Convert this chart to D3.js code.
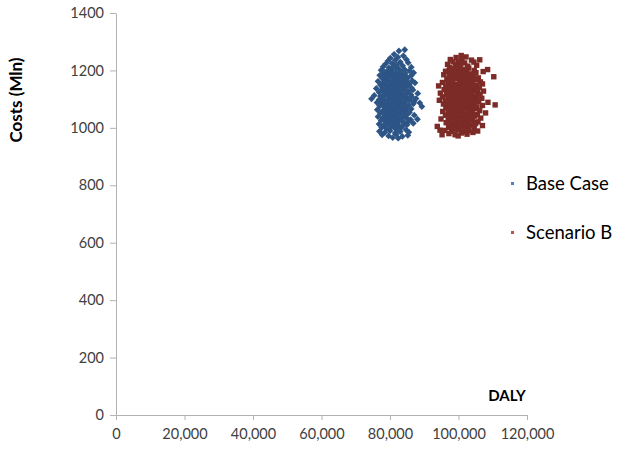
<!DOCTYPE html>
<html><head><meta charset="utf-8">
<script src="https://cdn.jsdelivr.net/npm/d3@7"></script>
<style>body{margin:0;background:#fff}svg{display:block}text{font-family:Lato,"Open Sans",sans-serif}</style>
</head><body><svg id="c" width="629" height="453"></svg>
<script>
const xTicks = [0,20000,40000,60000,80000,100000,120000];
const yTicks = [0,200,400,600,800,1000,1200,1400];
const seriesNames = ["Base Case","Scenario B"];
const baseCase = [
[82600,1268],[84300,1272],[81200,1256],[83900,1251],[80100,1243],[82300,1246],[84800,1238],[79400,1233],[81500,1236],[83000,1229],[85300,1227],
[78700,1222],[80600,1224],[82000,1219],[83700,1216],[86200,1211],[78000,1213],[79700,1209],[81000,1212],[82500,1206],[84300,1203],[85700,1199],
[77400,1201],[79000,1196],[80300,1199],[81600,1193],[83100,1197],[84500,1190],[86900,1192],[78200,1188],
[77000,1183],[78600,1180],[79900,1186],[81100,1178],[82300,1184],[83600,1181],[84900,1176],[86200,1182],
[77800,1172],[79200,1169],[80500,1175],[81700,1166],[82800,1171],[84000,1167],[85100,1173],[86500,1164],
[76500,1162],[78100,1158],[79400,1163],[80700,1156],[82000,1161],[83200,1154],[84400,1159],[85600,1152],[87300,1157],
[77200,1149],[78700,1146],[80000,1151],[81300,1143],[82600,1148],[83900,1141],[85100,1146],[86300,1139],
[76000,1137],[77700,1134],[79000,1139],[80300,1131],[81600,1136],[82900,1129],[84200,1134],[85400,1127],[86700,1132],
[76800,1124],[78300,1121],[79600,1126],[80900,1119],[82200,1124],[83500,1117],[84800,1122],[86100,1115],[88100,1120],
[75400,1113],[77200,1110],[78500,1115],[79800,1108],[81100,1113],[82400,1106],[83700,1111],[85000,1104],[86300,1109],[87600,1102],
[74600,1101],[76800,1098],[78000,1103],[79300,1096],[80600,1101],[81900,1094],[83200,1099],[84500,1092],[85800,1097],[87000,1091],
[76200,1088],[77600,1085],[78900,1090],[80200,1083],[81500,1088],[82800,1081],[84100,1086],[85400,1079],[86800,1084],[88700,1087],
[77000,1076],[78400,1072],[79700,1077],[81000,1070],[82300,1075],[83600,1068],[84900,1073],[86200,1066],[89300,1074],
[76300,1063],[77900,1060],[79200,1065],[80500,1058],[81800,1063],[83100,1056],[84400,1061],[85700,1054],
[77200,1051],[78600,1047],[79900,1052],[81200,1045],[82500,1050],[83800,1043],[85100,1048],[87100,1044],
[76500,1039],[78000,1035],[79400,1040],[80700,1033],[82000,1038],[83300,1031],[84700,1036],[86000,1029],
[77400,1026],[78800,1022],[80100,1027],[81400,1020],[82700,1025],[84000,1018],[85400,1023],[88000,1030],
[76800,1013],[78200,1010],[79600,1015],[81000,1008],[82300,1013],[83700,1006],[85000,1011],[86800,1016],
[77600,1001],[79000,997],[80400,1003],[81800,995],[83200,1000],[84700,993],
[76900,988],[78500,984],[80000,990],[81500,982],[83000,987],[85500,985],
[77700,976],[79600,972],[81800,978],[83600,970],[80800,966],[85200,974],[82400,964],
[80900,1165],[82100,1142],[81400,1127],[80000,1116],[82900,1100],[81300,1082],[80100,1068],[82800,1062],[81500,1055],[80600,1040],
[82100,1028],[83000,1120],[79500,1150],[83400,1175],[80200,1190],[81800,1208],[79000,1075],[84100,1050],[79000,1027],[81200,1003],
[78200,1196],[79300,1178],[80600,1184],[81900,1172],[83100,1188],[84300,1170],[78500,1164],[79800,1158],[81100,1152],[82400,1166],
[83700,1148],[85000,1160],[77900,1142],[79300,1132],[80600,1140],[81900,1118],[83300,1136],[84600,1128],[78100,1128],[79300,1112],
[80600,1106],[81900,1130],[83100,1108],[84400,1116],[77800,1094],[79000,1086],[80300,1094],[81600,1100],[82900,1090],[84300,1098],
[78300,1080],[79500,1064],[80800,1076],[82100,1070],[83400,1078],[84700,1066],[78300,1056],[79600,1046],[80900,1050],[82200,1056],
[83500,1046],[84700,1056],[78400,1040],[79800,1034],[81100,1030],[82500,1042],[83700,1024],[78900,1006],[80800,1016],[82500,1004]
];
const scenarioB = [
[100800,1252],[99300,1245],[102200,1247],[97600,1238],[101000,1240],[103800,1236],[98400,1230],[100000,1232],[101800,1226],[104500,1229],
[96800,1221],[99100,1219],[100600,1223],[102700,1215],[105300,1218],[97400,1210],[98800,1206],[100200,1211],[101600,1204],[103000,1208],[104600,1200],[107200,1196],
[96200,1197],[97900,1193],[99500,1199],[100900,1191],[102300,1195],[103700,1188],[105100,1192],
[95700,1185],[97300,1181],[98700,1186],[100100,1179],[101500,1183],[102900,1176],[104300,1181],[105800,1174],[110300,1178],
[96600,1170],[98000,1167],[99400,1172],[100800,1164],[102200,1169],[103600,1162],[105000,1167],[106400,1160],
[95300,1158],[96900,1154],[98300,1159],[99700,1152],[101100,1157],[102500,1150],[103900,1155],[105300,1148],[107000,1153],
[94200,1146],[96300,1142],[97700,1147],[99100,1140],[100500,1145],[101900,1138],[103300,1143],[104700,1136],[106100,1141],
[95800,1133],[97200,1129],[98600,1134],[100000,1127],[101400,1132],[102800,1125],[104200,1130],[105600,1123],[107300,1128],
[94700,1121],[96500,1117],[97900,1122],[99300,1115],[100700,1120],[102100,1113],[103500,1118],[104900,1111],[106300,1116],
[95300,1108],[96900,1104],[98300,1109],[99700,1102],[101100,1107],[102500,1100],[103900,1105],[105300,1098],[106800,1103],
[94400,1096],[96100,1092],[97500,1097],[98900,1090],[100300,1095],[101700,1088],[103100,1093],[104500,1086],[105900,1091],[108600,1089],
[95600,1083],[97000,1079],[98400,1084],[99800,1077],[101200,1082],[102600,1075],[104000,1080],[105400,1073],[107000,1078],[110700,1080],
[96300,1070],[97700,1066],[99100,1071],[100500,1064],[101900,1069],[103300,1062],[104700,1067],[106200,1060],
[95400,1057],[97000,1053],[98400,1058],[99800,1051],[101200,1056],[102600,1049],[104000,1054],[105500,1047],[107900,1052],
[96200,1044],[97700,1040],[99100,1045],[100500,1038],[101900,1043],[103300,1036],[104800,1041],[106500,1034],
[94900,1031],[97000,1027],[98400,1032],[99800,1025],[101200,1030],[102600,1023],[104100,1028],[105700,1021],
[96400,1018],[97800,1014],[99200,1019],[100600,1012],[102000,1017],[103500,1010],[105000,1015],[107000,1008],
[93800,1005],[97100,1001],[98600,1006],[100000,999],[101500,1004],[103000,997],[104600,1002],
[96000,991],[98000,988],[99600,993],[101300,986],[103000,991],[105600,989],
[97200,980],[99000,976],[100800,982],[102500,978],[104200,984],[99900,972],
[95200,976],[94600,992],[108500,1203],[106200,1237],
[99800,1180],[101200,1160],[100200,1138],[101000,1115],[99500,1097],[100900,1075],[99600,1060],[101800,1047],[100300,1030],[99500,1010],
[102900,1140],[98500,1120],[103400,1100],[98000,1070],[102800,1088],[101700,1125],[97000,1160],[104000,1070],[100500,1205],[98900,1040],
[97200,1198],[98600,1176],[99900,1190],[101200,1172],[102600,1186],[103900,1170],[97600,1162],[98900,1150],[100300,1156],[101700,1146],
[103000,1160],[104300,1148],[96800,1138],[98200,1128],[99600,1134],[101000,1124],[102400,1132],[103800,1122],[105200,1136],[97200,1112],
[98600,1100],[100000,1108],[101400,1096],[102800,1110],[104200,1096],[97000,1088],[98300,1076],[99600,1086],[101000,1064],[102300,1080],
[103700,1088],[97300,1060],[98700,1048],[100100,1056],[101500,1036],[102900,1058],[104300,1044],[97400,1034],[98800,1022],[100300,1018],
[101700,1024],[103000,1030],[104400,1018],[98000,1002],[99400,996],[100800,1004],[102300,1008],[101700,992]
];
const colors = ["#2d5586","#7d2b27"];

const svg = d3.select("#c");
const x = d3.scaleLinear().domain([0,120000]).range([116,527]);
const y = d3.scaleLinear().domain([0,1400]).range([415,13]);
const axisColor = "#b3b3b3", textColor = "#404040";

const gx = svg.append("g").attr("transform","translate(0,415)")
  .call(d3.axisBottom(x).tickValues(xTicks).tickFormat(d3.format(",")).tickSizeInner(5).tickSizeOuter(0).tickPadding(9));
const gy = svg.append("g").attr("transform","translate(116,0)")
  .call(d3.axisLeft(y).tickValues(yTicks).tickFormat(d3.format("d")).tickSizeInner(6).tickSizeOuter(0).tickPadding(6));
[gx,gy].forEach(g=>{
  g.select(".domain").attr("stroke",axisColor);
  g.selectAll(".tick line").attr("stroke",axisColor);
  g.selectAll(".tick text").attr("fill",textColor).style("font-size","14.5px").style("font-family","Lato");
});

// blue: small diamond (rotated square), red: small square
const marks = [
  {d:"M0,-3.4L3.4,0L0,3.4L-3.4,0Z"},
  {d:"M-2.7,-2.7H2.7V2.7H-2.7Z"}
];
[baseCase, scenarioB].forEach((data,i)=>{
  svg.append("g").selectAll("path").data(data).enter().append("path")
    .attr("transform",d=>`translate(${x(d[0])},${y(d[1])})`)
    .attr("d",marks[i].d).attr("fill",colors[i]);
});

svg.append("text").attr("transform","translate(22,100) rotate(-90)").attr("text-anchor","middle")
  .style("font-size","17px").style("font-weight","bold").attr("fill","#000").text("Costs (Mln)");
svg.append("text").attr("x",507).attr("y",401).attr("text-anchor","middle")
  .style("font-size","15px").style("font-weight","bold").attr("fill","#000").text("DALY");

const legY = [184,233];
seriesNames.forEach((n,i)=>{
  svg.append("rect").attr("x",511).attr("y",legY[i]-2).attr("width",3).attr("height",3).attr("fill",i?"#c0504d":"#4f81bd");
  svg.append("text").attr("x",526).attr("y",legY[i]+6).style("font-size","18.5px").attr("fill","#000").text(n);
});
</script></body></html>
